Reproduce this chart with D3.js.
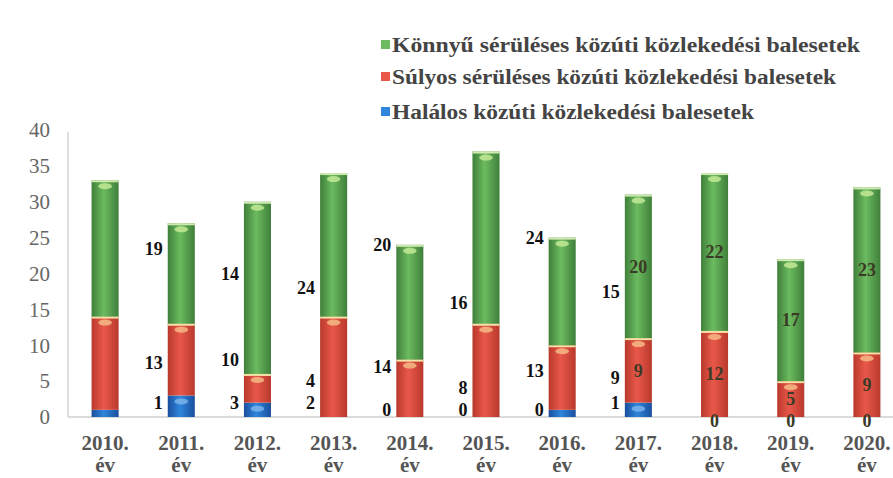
<!DOCTYPE html>
<html>
<head>
<meta charset="utf-8">
<script src="https://cdn.jsdelivr.net/npm/d3@7"></script>
<style>
  body { margin: 0; background: #fff; }
  svg { display: block; }
  svg text { font-family: "Liberation Serif", "Times New Roman", "DejaVu Serif", serif; }
</style>
</head>
<body>
<div id="chart"></div>
<script>
// years on the x axis
var years = ["2010.", "2011.", "2012.", "2013.", "2014.", "2015.", "2016.", "2017.", "2018.", "2019.", "2020."];

// accidents per category, bottom to top
var halalos = [1, 3, 2, 0, 0, 0, 1, 2, 0, 0, 0];
var sulyos  = [13, 10, 4, 14, 8, 13, 9, 9, 12, 5, 9];
var konnyu  = [19, 14, 24, 20, 16, 24, 15, 20, 22, 17, 23];

var seriesNames = [
    "Halálos közúti közlekedési balesetek",
    "Súlyos sérüléses közúti közlekedési balesetek",
    "Könnyű sérüléses közúti közlekedési balesetek"
];
var yTicks = [0, 5, 10, 15, 20, 25, 30, 35, 40];

// in the original the labels of the first seven years sit left of the next bar
var shiftedLabels = 7;

var width = 893, height = 478;
var colors = [
    {edge: "#1a4f9c", mid: "#2f86dc", cap: "#7fb7ee"},
    {edge: "#b8392c", mid: "#e9584a", cap: "#f6c08a"},
    {edge: "#3f7f3a", mid: "#6cbb60", cap: "#c9ec9a"}
];
// legend text widths as printed in the original
var legendWidths = [362, 444, 468];

var rows = years.map((y, i) => ({year: y, v: [halalos[i], sulyos[i], konnyu[i]]}));
var stack = d3.stack().keys([0, 1, 2]).value((d, k) => d.v[k]);
var layers = stack(rows);

var svg = d3.select("#chart").append("svg")
    .attr("width", width)
    .attr("height", height);

var defs = svg.append("defs");
colors.forEach((c, i) => {
    var g = defs.append("linearGradient")
        .attr("id", "grad" + i)
        .attr("x1", "0%").attr("x2", "100%")
        .attr("y1", "0%").attr("y2", "0%");
    g.append("stop").attr("offset", "0%").attr("stop-color", c.edge);
    g.append("stop").attr("offset", "45%").attr("stop-color", c.mid);
    g.append("stop").attr("offset", "100%").attr("stop-color", c.edge);
});

var x = d3.scaleBand()
    .domain(years)
    .range([67, 905])
    .paddingInner(0.645)
    .paddingOuter(0.3225);

var y = d3.scaleLinear()
    .domain([0, 40])
    .range([417, 130]);

// axis lines
svg.append("line")
    .attr("x1", 68).attr("x2", 68)
    .attr("y1", y(40) + 2).attr("y2", y(0))
    .attr("stroke", "#d4d4d4").attr("stroke-width", 1.5);
svg.append("line")
    .attr("x1", 68).attr("x2", width)
    .attr("y1", y(0)).attr("y2", y(0))
    .attr("stroke", "#cfcfcf").attr("stroke-width", 1.5);

svg.append("g").selectAll("text")
    .data(yTicks).enter()
    .append("text")
    .attr("x", 50)
    .attr("y", d => y(d))
    .attr("dy", "0.35em")
    .attr("text-anchor", "end")
    .style("font-size", "21px")
    .style("fill", "#666")
    .text(d => d);

// bars
var bw = x.bandwidth();
layers.forEach((layer, k) => {
    var g = svg.append("g");
    var segs = layer.filter(d => d[1] > d[0]);
    g.selectAll("rect")
        .data(segs).enter()
        .append("rect")
        .attr("x", d => x(d.data.year))
        .attr("y", d => y(d[1]))
        .attr("width", bw)
        .attr("height", d => y(d[0]) - y(d[1]))
        .attr("fill", "url(#grad" + k + ")");
    // light band at top of each segment
    g.selectAll("line.cap")
        .data(segs.filter(d => k > 0)).enter()
        .append("line")
        .attr("x1", d => x(d.data.year))
        .attr("x2", d => x(d.data.year) + bw)
        .attr("y1", d => y(d[1]) + 1)
        .attr("y2", d => y(d[1]) + 1)
        .attr("stroke", k === 1 ? "#f4e3a6" : "#cfe9b0")
        .attr("stroke-width", 2);
    g.selectAll("ellipse")
        .data(segs.filter(d => y(d[0]) - y(d[1]) > 10)).enter()
        .append("ellipse")
        .attr("cx", d => x(d.data.year) + bw / 2)
        .attr("cy", d => y(d[1]) + 6)
        .attr("rx", bw * 0.25)
        .attr("ry", 3)
        .attr("fill", colors[k].cap)
        .attr("opacity", 0.8);
});

// value labels, pushed apart so small segments don't collide
var labels = [];
rows.forEach((r, i) => {
    var prev = Infinity;
    layers.forEach((layer, k) => {
        var d = layer[i];
        var value = r.v[k];
        var shifted = i < shiftedLabels;
        var ly;
        if (value === 0) ly = shifted ? y(0) - 7 : y(0) + 4;
        else ly = Math.min(y((d[0] + d[1]) / 2), y(0) - 14, prev - 22);
        prev = ly;
        if (!shifted && k === 0 && value > 0) return;  // hidden in the original
        labels.push({i: i, k: k, value: value, y: ly, shifted: shifted});
    });
});

svg.append("g").selectAll("text")
    .data(labels).enter()
    .append("text")
    .attr("x", d => d.shifted ? x(years[d.i + 1]) - 5 : x(years[d.i]) + bw / 2)
    .attr("y", d => d.y)
    .attr("dy", "0.35em")
    .attr("text-anchor", d => d.shifted ? "end" : "middle")
    .style("font-weight", "bold")
    .style("font-size", "18px")
    .style("fill", d => d.shifted ? "#111" : "#3b3a26")
    .text(d => d.value);

// x labels
var xl = svg.append("g").selectAll("g")
    .data(years).enter()
    .append("g")
    .attr("transform", d => "translate(" + (x(d) + bw / 2) + ",0)")
    .style("font-weight", "bold")
    .style("font-size", "21px")
    .style("fill", "#555");
xl.append("text")
    .attr("y", 450)
    .attr("text-anchor", "middle")
    .text(d => d);
xl.append("text")
    .attr("y", 472)
    .attr("text-anchor", "middle")
    .text("év");

// legend, top entry first
var legendOrder = [2, 1, 0];
var legend = svg.append("g").selectAll("g")
    .data(legendOrder).enter()
    .append("g")
    .attr("transform", (d, i) => "translate(381," + [45, 77, 112][i] + ")");
legend.append("rect")
    .attr("x", 0).attr("y", -5)
    .attr("width", 9).attr("height", 9)
    .attr("fill", d => colors[d].mid);
legend.append("text")
    .attr("x", 11)
    .attr("dy", "0.35em")
    .attr("textLength", d => legendWidths[d])
    .attr("lengthAdjust", "spacingAndGlyphs")
    .style("font-weight", "bold")
    .style("font-size", "20px")
    .style("fill", "#444")
    .text(d => seriesNames[d]);
</script>
</body>
</html>
